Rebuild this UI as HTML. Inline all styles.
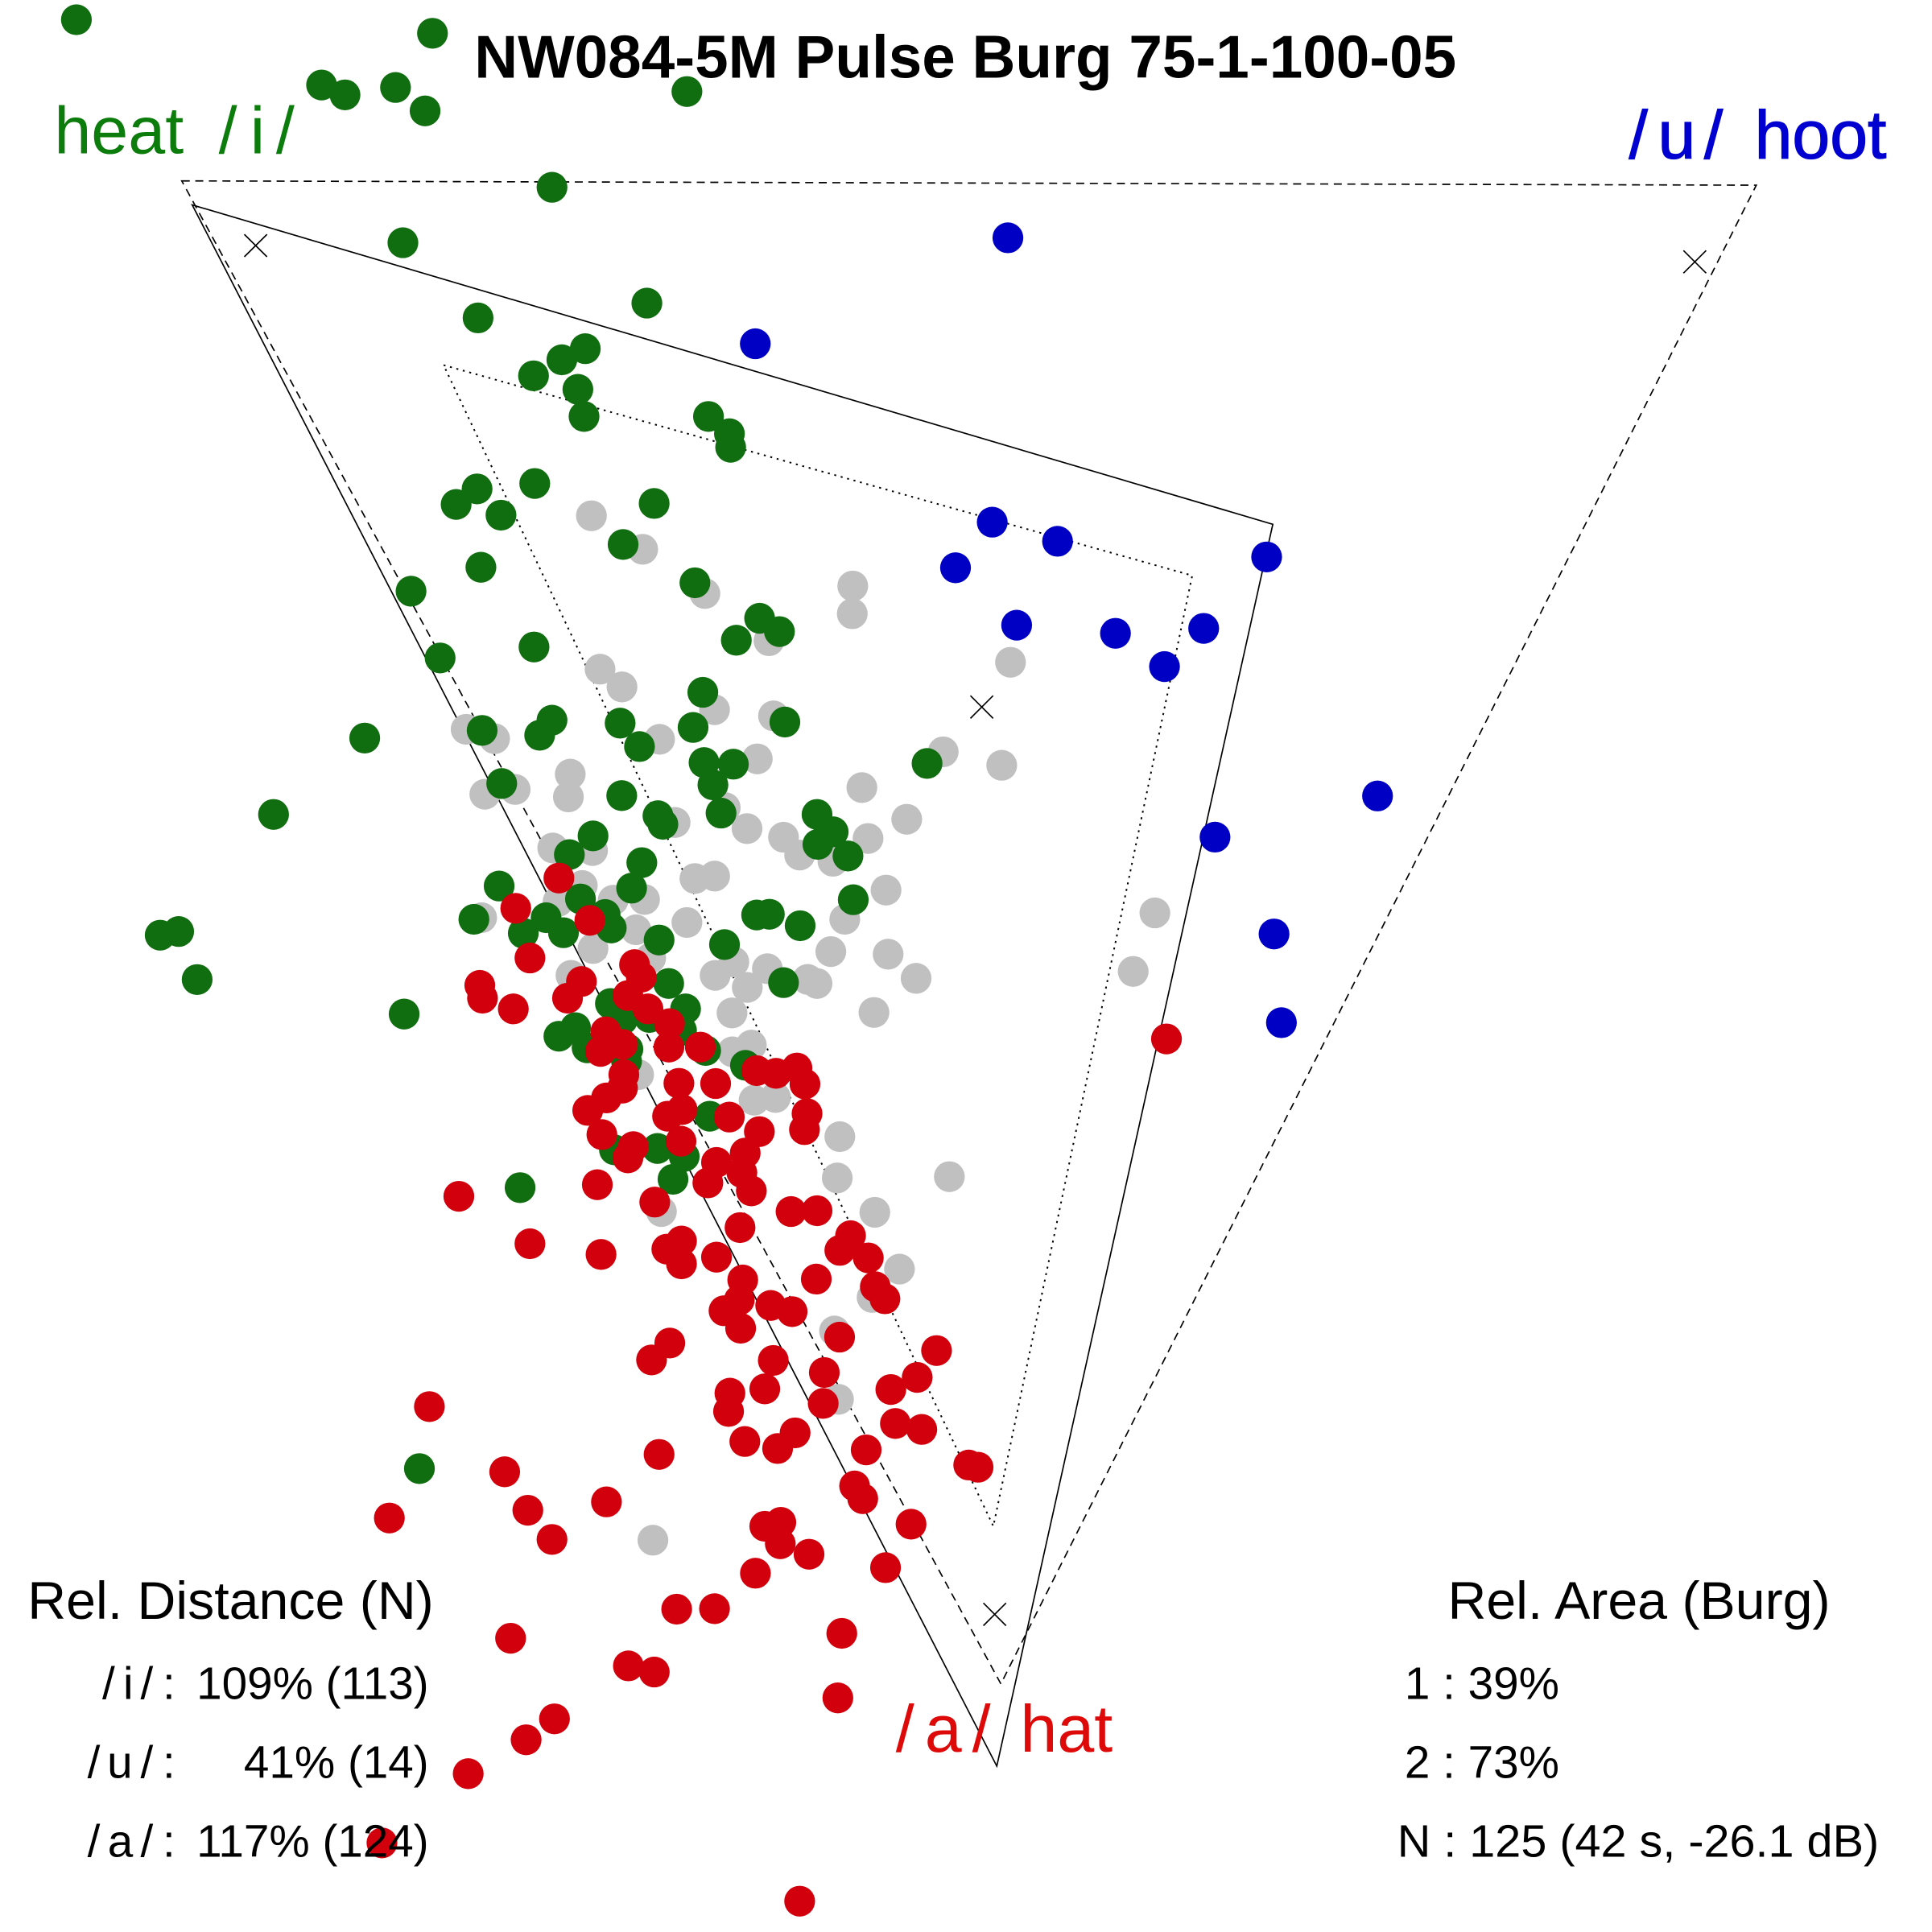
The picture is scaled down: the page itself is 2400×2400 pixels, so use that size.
<!DOCTYPE html>
<html>
<head>
<meta charset="utf-8">
<style>
html,body{margin:0;padding:0;background:#fff;}
svg{display:block;}
text{font-family:"Liberation Sans",Arial,sans-serif;}
</style>
</head>
<body>
<svg xmlns="http://www.w3.org/2000/svg" width="2400" height="2400" viewBox="0 0 1568 1568">
<rect x="0" y="0" width="1568" height="1568" fill="#fff"/>

<!-- triangles -->
<g fill="none" stroke="#000">
  <polygon points="147.5,146.8 1425.4,150.3 812.3,1366.6" stroke-width="1.1" stroke-dasharray="6.5 4.5"/>
  <polygon points="156,166.3 1033,425.5 809,1433.4" stroke-width="1.1"/>
  <polygon points="360,296.3 967.6,467.1 806.2,1238.7" stroke-width="1.3" stroke-dasharray="1.6 3.8"/>
</g>
<!-- x markers -->
<g stroke="#000" stroke-width="1.1">
  <path d="M198.3,190.2 L216.7,208.4 M216.7,190.2 L198.3,208.4"/>
  <path d="M1366.3,203.3 L1384.7,221.7 M1384.7,203.3 L1366.3,221.7"/>
  <path d="M787.6,564.6 L806,583 M806,564.6 L787.6,583"/>
  <path d="M798.1,1301 L816.5,1319.4 M816.5,1301 L798.1,1319.4"/>
</g>

<!-- grey -->
<g fill="#c0c0c0">
<circle cx="480" cy="418.6" r="12.5"/><circle cx="521.6" cy="445.8" r="12.5"/><circle cx="572.1" cy="481.7" r="12.5"/>
<circle cx="692.1" cy="475.6" r="12.5"/><circle cx="691.7" cy="498.1" r="12.5"/><circle cx="624.1" cy="520" r="12.5"/>
<circle cx="487" cy="543.1" r="12.5"/><circle cx="504.8" cy="557.5" r="12.5"/><circle cx="820.1" cy="537.5" r="12.5"/>
<circle cx="579.9" cy="576" r="12.5"/><circle cx="627.8" cy="581" r="12.5"/><circle cx="535.3" cy="600" r="12.5"/>
<circle cx="378.3" cy="591.9" r="12.5"/><circle cx="401.4" cy="599.5" r="12.5"/><circle cx="462.8" cy="628.3" r="12.5"/>
<circle cx="461.3" cy="646.8" r="12.5"/><circle cx="393.5" cy="644.6" r="12.5"/><circle cx="418.1" cy="640.7" r="12.5"/>
<circle cx="614.6" cy="615.9" r="12.5"/><circle cx="765.5" cy="610.2" r="12.5"/><circle cx="813" cy="621.1" r="12.5"/>
<circle cx="699.5" cy="639.2" r="12.5"/><circle cx="588.6" cy="655.5" r="12.5"/><circle cx="547.9" cy="667.5" r="12.5"/>
<circle cx="606.3" cy="672.5" r="12.5"/><circle cx="635.9" cy="679.5" r="12.5"/><circle cx="649" cy="694" r="12.5"/>
<circle cx="735.9" cy="664.9" r="12.5"/><circle cx="704.5" cy="680.5" r="12.5"/><circle cx="676" cy="699" r="12.5"/>
<circle cx="448.6" cy="688.2" r="12.5"/><circle cx="480.9" cy="690.3" r="12.5"/><circle cx="564" cy="713" r="12.5"/>
<circle cx="580" cy="711" r="12.5"/><circle cx="472.6" cy="718.7" r="12.5"/><circle cx="497.6" cy="730.6" r="12.5"/>
<circle cx="523.1" cy="730" r="12.5"/><circle cx="557.5" cy="748.7" r="12.5"/><circle cx="516.1" cy="754.6" r="12.5"/>
<circle cx="481.3" cy="769.8" r="12.5"/><circle cx="528.1" cy="777.5" r="12.5"/><circle cx="463.4" cy="791.6" r="12.5"/>
<circle cx="390.9" cy="744.8" r="12.5"/><circle cx="452.9" cy="731.7" r="12.5"/>
<circle cx="595.6" cy="780.7" r="12.5"/><circle cx="580.4" cy="791.6" r="12.5"/><circle cx="622.8" cy="786.2" r="12.5"/>
<circle cx="606.5" cy="801.4" r="12.5"/><circle cx="655.5" cy="794.9" r="12.5"/><circle cx="663.1" cy="798.2" r="12.5"/>
<circle cx="674.3" cy="772.3" r="12.5"/><circle cx="685.6" cy="746.1" r="12.5"/><circle cx="719.1" cy="722.4" r="12.5"/>
<circle cx="720.8" cy="774.4" r="12.5"/><circle cx="743.5" cy="794" r="12.5"/><circle cx="709.3" cy="821.7" r="12.5"/>
<circle cx="594.1" cy="822.1" r="12.5"/><circle cx="594.5" cy="853.7" r="12.5"/><circle cx="609.8" cy="848.2" r="12.5"/>
<circle cx="612" cy="892.9" r="12.5"/><circle cx="629.4" cy="890.7" r="12.5"/><circle cx="518.3" cy="872.2" r="12.5"/>
<circle cx="681.6" cy="922.5" r="12.5"/><circle cx="679.5" cy="956" r="12.5"/><circle cx="770.5" cy="955" r="12.5"/>
<circle cx="710" cy="983.9" r="12.5"/><circle cx="536.8" cy="983.3" r="12.5"/><circle cx="730" cy="1030" r="12.5"/>
<circle cx="707.8" cy="1053" r="12.5"/><circle cx="677.3" cy="1080.2" r="12.5"/><circle cx="680.5" cy="1135.7" r="12.5"/>
<circle cx="529.9" cy="1250" r="12.5"/><circle cx="937.3" cy="740.9" r="12.5"/><circle cx="919.7" cy="788.4" r="12.5"/>
</g>

<!-- green -->
<g fill="#106e10">
<circle cx="62" cy="16" r="12.5"/><circle cx="351" cy="27" r="12.5"/><circle cx="261" cy="69" r="12.5"/>
<circle cx="280" cy="77" r="12.5"/><circle cx="321" cy="71" r="12.5"/><circle cx="345" cy="90" r="12.5"/>
<circle cx="557.5" cy="74.3" r="12.5"/><circle cx="448" cy="152" r="12.5"/><circle cx="327" cy="197" r="12.5"/>
<circle cx="525" cy="246" r="12.5"/><circle cx="388" cy="258" r="12.5"/><circle cx="475" cy="283" r="12.5"/>
<circle cx="456" cy="292" r="12.5"/><circle cx="433" cy="305" r="12.5"/><circle cx="469" cy="316" r="12.5"/>
<circle cx="474" cy="338" r="12.5"/><circle cx="575" cy="338" r="12.5"/><circle cx="592" cy="352" r="12.5"/>
<circle cx="593" cy="363" r="12.5"/>
<circle cx="387.2" cy="396.8" r="12.5"/><circle cx="370.2" cy="409.4" r="12.5"/><circle cx="434" cy="392.4" r="12.5"/>
<circle cx="406.6" cy="418.1" r="12.5"/><circle cx="530.9" cy="408.6" r="12.5"/><circle cx="505.7" cy="441.9" r="12.5"/>
<circle cx="390.3" cy="460.4" r="12.5"/><circle cx="333.6" cy="479.8" r="12.5"/><circle cx="564" cy="473" r="12.5"/>
<circle cx="616.5" cy="501.8" r="12.5"/><circle cx="597.6" cy="519.6" r="12.5"/><circle cx="632.6" cy="512.6" r="12.5"/>
<circle cx="357.2" cy="534" r="12.5"/><circle cx="433.4" cy="525.1" r="12.5"/><circle cx="570.4" cy="561.9" r="12.5"/>
<circle cx="448" cy="584.5" r="12.5"/><circle cx="438" cy="596.7" r="12.5"/><circle cx="391.3" cy="592.8" r="12.5"/>
<circle cx="503.3" cy="586.9" r="12.5"/><circle cx="519" cy="605.9" r="12.5"/><circle cx="562.5" cy="590.4" r="12.5"/>
<circle cx="637" cy="586" r="12.5"/><circle cx="571.4" cy="618.9" r="12.5"/><circle cx="595.2" cy="620.2" r="12.5"/>
<circle cx="578.6" cy="637" r="12.5"/><circle cx="585.2" cy="659.9" r="12.5"/><circle cx="407.2" cy="635.9" r="12.5"/>
<circle cx="504.6" cy="645.7" r="12.5"/><circle cx="534" cy="662" r="12.5"/><circle cx="538" cy="669" r="12.5"/>
<circle cx="663.1" cy="661" r="12.5"/><circle cx="663.8" cy="685.3" r="12.5"/><circle cx="481.3" cy="678.4" r="12.5"/>
<circle cx="462.1" cy="693.6" r="12.5"/><circle cx="520.9" cy="700.1" r="12.5"/>
<circle cx="752.4" cy="619.6" r="12.5"/><circle cx="676.2" cy="675.1" r="12.5"/><circle cx="688.2" cy="694.7" r="12.5"/>
<circle cx="405.1" cy="719.1" r="12.5"/><circle cx="384.6" cy="746.1" r="12.5"/><circle cx="424.7" cy="757.4" r="12.5"/>
<circle cx="443.2" cy="744.8" r="12.5"/><circle cx="457.3" cy="757" r="12.5"/><circle cx="471.1" cy="729.6" r="12.5"/>
<circle cx="491.1" cy="742.2" r="12.5"/><circle cx="496.1" cy="753.1" r="12.5"/><circle cx="512.6" cy="720.8" r="12.5"/>
<circle cx="534.9" cy="762.9" r="12.5"/><circle cx="588" cy="766.6" r="12.5"/><circle cx="614.1" cy="742.6" r="12.5"/>
<circle cx="624.4" cy="742" r="12.5"/><circle cx="649.4" cy="751.3" r="12.5"/><circle cx="692.5" cy="730.2" r="12.5"/>
<circle cx="635.9" cy="797.5" r="12.5"/><circle cx="542.7" cy="798.2" r="12.5"/><circle cx="556.4" cy="818.8" r="12.5"/>
<circle cx="495.4" cy="814.5" r="12.5"/><circle cx="505.2" cy="827.6" r="12.5"/><circle cx="527" cy="825.8" r="12.5"/>
<circle cx="553.1" cy="836.3" r="12.5"/><circle cx="453.6" cy="841" r="12.5"/><circle cx="467.1" cy="834.1" r="12.5"/>
<circle cx="476.5" cy="850.4" r="12.5"/><circle cx="509.6" cy="851.5" r="12.5"/><circle cx="508.5" cy="861.3" r="12.5"/>
<circle cx="572.7" cy="852.6" r="12.5"/><circle cx="605" cy="864.6" r="12.5"/><circle cx="576" cy="905.9" r="12.5"/>
<circle cx="498.7" cy="933.2" r="12.5"/><circle cx="533.6" cy="932.1" r="12.5"/><circle cx="555.3" cy="938.6" r="12.5"/>
<circle cx="546.2" cy="957.1" r="12.5"/><circle cx="422.1" cy="963.9" r="12.5"/>
<circle cx="296" cy="599" r="12.5"/><circle cx="222" cy="661" r="12.5"/><circle cx="130" cy="759" r="12.5"/>
<circle cx="145" cy="756" r="12.5"/><circle cx="160" cy="795" r="12.5"/><circle cx="328" cy="823" r="12.5"/>
<circle cx="340.4" cy="1191.9" r="12.5"/>
</g>

<!-- blue -->
<g fill="#0000c4">
<circle cx="818" cy="193" r="12.5"/><circle cx="613" cy="279" r="12.5"/><circle cx="805.3" cy="423.8" r="12.5"/>
<circle cx="858.3" cy="439.3" r="12.5"/><circle cx="775.5" cy="460.8" r="12.5"/><circle cx="1028" cy="452" r="12.5"/>
<circle cx="825.1" cy="507.4" r="12.5"/><circle cx="905.3" cy="514" r="12.5"/><circle cx="976.9" cy="510" r="12.5"/>
<circle cx="945.1" cy="541" r="12.5"/><circle cx="1118" cy="646" r="12.5"/><circle cx="986.1" cy="679.4" r="12.5"/>
<circle cx="1034" cy="758" r="12.5"/><circle cx="1040" cy="830" r="12.5"/>
</g>

<!-- red -->
<g fill="#d2000d">
<circle cx="453.6" cy="712.6" r="12.5"/><circle cx="418.6" cy="737.2" r="12.5"/><circle cx="478.7" cy="747" r="12.5"/>
<circle cx="430.1" cy="777.5" r="12.5"/><circle cx="389.4" cy="799.7" r="12.5"/><circle cx="391.6" cy="810.1" r="12.5"/>
<circle cx="416.6" cy="818.8" r="12.5"/><circle cx="471.9" cy="796.6" r="12.5"/><circle cx="460.6" cy="810.1" r="12.5"/>
<circle cx="515" cy="782.9" r="12.5"/><circle cx="520.5" cy="793.1" r="12.5"/><circle cx="509.6" cy="808" r="12.5"/>
<circle cx="525.9" cy="818.8" r="12.5"/><circle cx="543.3" cy="830.8" r="12.5"/><circle cx="491.7" cy="837.4" r="12.5"/>
<circle cx="505.2" cy="847.6" r="12.5"/><circle cx="487.4" cy="853.3" r="12.5"/><circle cx="542.9" cy="849.8" r="12.5"/>
<circle cx="568.4" cy="849.8" r="12.5"/><circle cx="506.3" cy="872.2" r="12.5"/><circle cx="505.2" cy="883.1" r="12.5"/>
<circle cx="492.2" cy="891.1" r="12.5"/><circle cx="477" cy="901.2" r="12.5"/><circle cx="551" cy="879.2" r="12.5"/>
<circle cx="580.8" cy="879.4" r="12.5"/><circle cx="553.6" cy="900.5" r="12.5"/><circle cx="541.8" cy="905.9" r="12.5"/>
<circle cx="591.9" cy="906.6" r="12.5"/><circle cx="614.1" cy="868.9" r="12.5"/><circle cx="629.8" cy="871.1" r="12.5"/>
<circle cx="646.8" cy="866.8" r="12.5"/><circle cx="653.3" cy="879.8" r="12.5"/><circle cx="655" cy="903.8" r="12.5"/>
<circle cx="652.9" cy="916.8" r="12.5"/><circle cx="488.5" cy="920.8" r="12.5"/><circle cx="514" cy="930.6" r="12.5"/>
<circle cx="509.6" cy="939.7" r="12.5"/><circle cx="552.7" cy="926.2" r="12.5"/><circle cx="616.3" cy="918.4" r="12.5"/>
<circle cx="581.5" cy="943.4" r="12.5"/><circle cx="604.8" cy="935.8" r="12.5"/><circle cx="574.5" cy="960" r="12.5"/>
<circle cx="602.1" cy="951.7" r="12.5"/><circle cx="609.8" cy="966.5" r="12.5"/><circle cx="484.8" cy="961.5" r="12.5"/>
<circle cx="372.4" cy="970.9" r="12.5"/><circle cx="531.4" cy="975.6" r="12.5"/><circle cx="600.6" cy="996.3" r="12.5"/>
<circle cx="642" cy="983.3" r="12.5"/><circle cx="663.1" cy="982.6" r="12.5"/><circle cx="690.3" cy="1002.9" r="12.5"/>
<circle cx="681.6" cy="1014.8" r="12.5"/><circle cx="430.1" cy="1009.4" r="12.5"/><circle cx="487.8" cy="1018.1" r="12.5"/>
<circle cx="541.2" cy="1013.8" r="12.5"/><circle cx="553.1" cy="1007.2" r="12.5"/><circle cx="581.5" cy="1020.3" r="12.5"/>
<circle cx="553.1" cy="1025.7" r="12.5"/><circle cx="704.7" cy="1020.9" r="12.5"/>
<circle cx="602.8" cy="1038.8" r="12.5"/><circle cx="600" cy="1055.1" r="12.5"/><circle cx="587.6" cy="1063.8" r="12.5"/>
<circle cx="601.1" cy="1078" r="12.5"/><circle cx="625.5" cy="1059.5" r="12.5"/><circle cx="642.9" cy="1064.5" r="12.5"/>
<circle cx="710.4" cy="1044.3" r="12.5"/><circle cx="718.2" cy="1054.1" r="12.5"/><circle cx="662.5" cy="1038.1" r="12.5"/>
<circle cx="681.4" cy="1085.2" r="12.5"/><circle cx="669" cy="1113.9" r="12.5"/><circle cx="668.1" cy="1139" r="12.5"/>
<circle cx="543.6" cy="1090" r="12.5"/><circle cx="528.8" cy="1103.7" r="12.5"/><circle cx="627.6" cy="1104.1" r="12.5"/>
<circle cx="620.7" cy="1127.2" r="12.5"/><circle cx="592.4" cy="1130.7" r="12.5"/><circle cx="591.3" cy="1145.5" r="12.5"/>
<circle cx="760.1" cy="1096.1" r="12.5"/><circle cx="744.4" cy="1117.9" r="12.5"/><circle cx="723" cy="1127.7" r="12.5"/>
<circle cx="726.7" cy="1155.3" r="12.5"/><circle cx="748.1" cy="1160.1" r="12.5"/><circle cx="645.3" cy="1162.9" r="12.5"/>
<circle cx="631.1" cy="1175.6" r="12.5"/><circle cx="604.5" cy="1169.9" r="12.5"/><circle cx="534.9" cy="1180.4" r="12.5"/>
<circle cx="703" cy="1176.7" r="12.5"/><circle cx="786.2" cy="1189" r="12.5"/><circle cx="793.8" cy="1190.8" r="12.5"/>
<circle cx="693.6" cy="1206" r="12.5"/><circle cx="700.2" cy="1216.3" r="12.5"/><circle cx="492.2" cy="1218.9" r="12.5"/>
<circle cx="620.7" cy="1238.7" r="12.5"/><circle cx="633.7" cy="1235.5" r="12.5"/><circle cx="633.3" cy="1252.9" r="12.5"/>
<circle cx="656.6" cy="1261.4" r="12.5"/><circle cx="739.4" cy="1237" r="12.5"/><circle cx="613.1" cy="1276.8" r="12.5"/>
<circle cx="718.7" cy="1272.3" r="12.5"/><circle cx="549.2" cy="1306" r="12.5"/><circle cx="579.9" cy="1305.6" r="12.5"/>
<circle cx="683.2" cy="1325.6" r="12.5"/><circle cx="946.7" cy="843.2" r="12.5"/>
<circle cx="348.5" cy="1141.6" r="12.5"/><circle cx="409.6" cy="1194.5" r="12.5"/><circle cx="316" cy="1232" r="12.5"/>
<circle cx="428.4" cy="1225.7" r="12.5"/><circle cx="448" cy="1249.4" r="12.5"/><circle cx="414.4" cy="1329.6" r="12.5"/>
<circle cx="510" cy="1352" r="12.5"/><circle cx="531" cy="1357" r="12.5"/><circle cx="450" cy="1395" r="12.5"/>
<circle cx="427" cy="1412" r="12.5"/><circle cx="380" cy="1439.5" r="12.5"/><circle cx="310" cy="1495.7" r="12.5"/>
<circle cx="680" cy="1378" r="12.5"/><circle cx="649" cy="1543" r="12.5"/>
</g>

<!-- title -->
<text x="385" y="63" font-size="48.9" font-weight="bold" fill="#000" textLength="797" lengthAdjust="spacingAndGlyphs">NW084-5M Pulse Burg 75-1-100-05</text>

<!-- vowel labels -->
<g fill="#0c7c0c" font-size="54">
  <text x="44" y="124.3">heat</text>
  <text x="177.5" y="124.3">/</text>
  <text x="203" y="124.3">i</text>
  <text x="224" y="124.3">/</text>
</g>
<g fill="#0000d0" font-size="55" stroke="#0000d0" stroke-width="0.8">
  <text x="1322" y="128.3">/</text>
  <text x="1345.5" y="128.3">u</text>
  <text x="1383" y="128.3">/</text>
  <text x="1424" y="128.3">hoot</text>
</g>
<g fill="#de0a0a" font-size="54">
  <text x="727" y="1421.7">/</text>
  <text x="750.5" y="1421.7">a</text>
  <text x="789" y="1421.7">/</text>
  <text x="828" y="1421.7">hat</text>
</g>

<!-- bottom-left stats -->
<g fill="#000">
  <text x="22.4" y="1313.9" font-size="43.3">Rel. Distance (N)</text>
  <g font-size="37">
    <text x="83" y="1379">/</text><text x="100" y="1379">i</text><text x="114" y="1379">/</text><text x="132" y="1379">:</text>
    <text x="348" y="1379" text-anchor="end">109% (113)</text>
    <text x="71" y="1443">/</text><text x="87" y="1443">u</text><text x="114" y="1443">/</text><text x="132" y="1443">:</text>
    <text x="348" y="1443" text-anchor="end">41% (14)</text>
    <text x="71" y="1507">/</text><text x="87.4" y="1507">a</text><text x="114" y="1507">/</text><text x="132" y="1507">:</text>
    <text x="348" y="1507" text-anchor="end">117% (124)</text>
  </g>
</g>

<!-- bottom-right stats -->
<g fill="#000">
  <text x="1175" y="1313.9" font-size="43.3">Rel. Area (Burg)</text>
  <g font-size="37">
    <text x="1140" y="1379">1 : 39%</text>
    <text x="1140" y="1443">2 : 73%</text>
    <text x="1134" y="1507" textLength="391" lengthAdjust="spacingAndGlyphs">N : 125 (42 s, -26.1 dB)</text>
  </g>
</g>
</svg>
</body>
</html>
